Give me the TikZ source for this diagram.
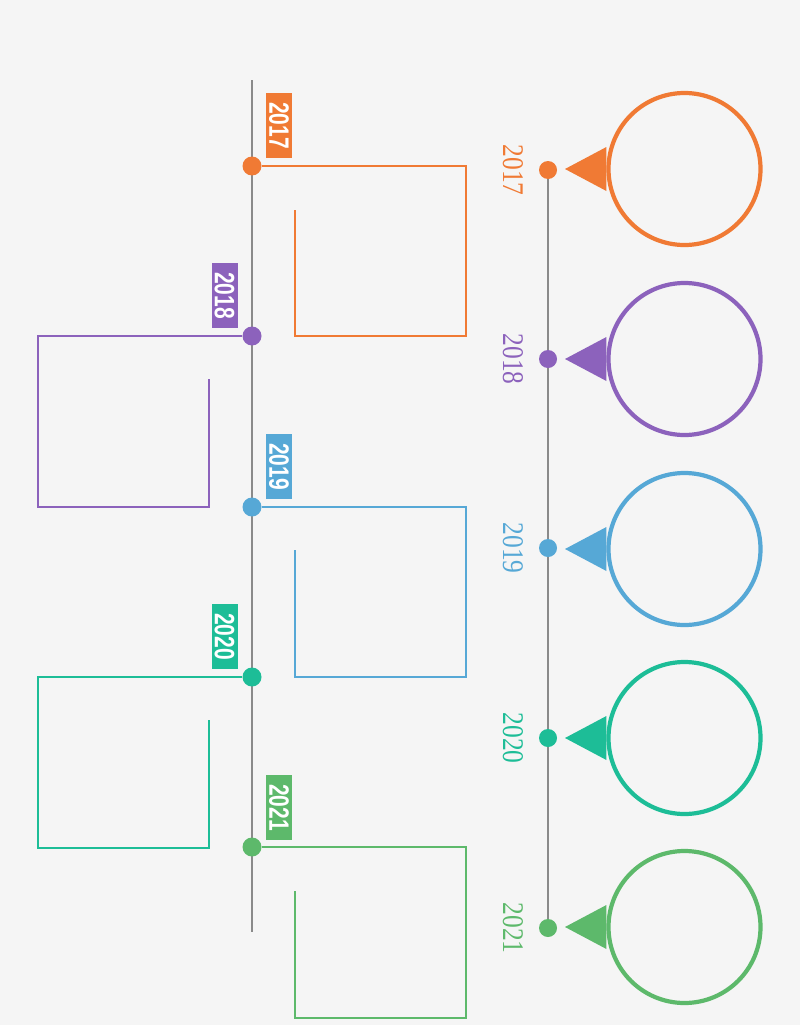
\documentclass[tikz,border=0pt]{standalone}
\usepackage{fontspec}
\setmainfont{Liberation Serif}
\newfontfamily\labsans{Liberation Sans}
\definecolor{bgc}{HTML}{F5F5F5}
\definecolor{axis}{HTML}{8A8A8A}
\definecolor{cA}{HTML}{F07A34}
\definecolor{cB}{HTML}{8C62BC}
\definecolor{cC}{HTML}{56A8D6}
\definecolor{cD}{HTML}{1DBD97}
\definecolor{cE}{HTML}{5DB96B}
\tikzset{
  dotnode/.style={circle,fill=#1,minimum size=19pt,inner sep=0pt},
  sdotnode/.style={circle,fill=#1,minimum size=18pt,inner sep=0pt},
  tag/.style={fill=#1,text=white,minimum width=65pt,minimum height=26pt,inner sep=0pt,rotate=-90,font=\labsans\fontsize{28}{28}\selectfont\bfseries},
  ylab/.style={text=#1,inner sep=0pt,rotate=-90,font=\fontsize{30}{30}\selectfont},
  frame/.style={draw=#1,line width=2pt},
  bubble/.style={circle,draw=#1,line width=4.2pt,minimum size=152pt,inner sep=0pt},
  axisline/.style={draw=axis,line width=2pt}
}
\begin{document}
\begin{tikzpicture}[x=1pt,y=-1pt]
\fill[bgc] (0,0) rectangle (800,1025);
\useasboundingbox (0,0) rectangle (800,1025);
% left axis
\coordinate (ltop) at (252,80);
\coordinate (lbot) at (252,932);
\draw[axisline] (ltop) -- (lbot);
% right axis
\coordinate (rtop) at (548,170);
\coordinate (rbot) at (548,928);
\draw[axisline] (rtop) -- (rbot);

% left dots
\node[dotnode=cA] (d1) at (252,166) {};
\node[dotnode=cB] (d2) at (252,336) {};
\node[dotnode=cC] (d3) at (252,507) {};
\node[dotnode=cD] (d4) at (252,677) {};
\node[dotnode=cE] (d5) at (252,847) {};

% tags
\node[tag=cA] (t1) at (279,125.5) {\scalebox{0.75}[1]{2017}};
\node[tag=cB] (t2) at (224.5,295.5) {\scalebox{0.75}[1]{2018}};
\node[tag=cC] (t3) at (279,466.5) {\scalebox{0.75}[1]{2019}};
\node[tag=cD] (t4) at (224.5,636.5) {\scalebox{0.75}[1]{2020}};
\node[tag=cE] (t5) at (279,807.5) {\scalebox{0.75}[1]{2021}};

% frames
\draw[frame=cA] (d1.east) -- (466,166) -- (466,336) -- (295,336) -- (295,210);
\draw[frame=cB] (d2.west) -- (38,336) -- (38,507) -- (209,507) -- (209,379);
\draw[frame=cC] (d3.east) -- (466,507) -- (466,677) -- (295,677) -- (295,550);
\draw[frame=cD] (d4.west) -- (38,677) -- (38,848) -- (209,848) -- (209,720);
\draw[frame=cE] (d5.east) -- (466,847) -- (466,1018) -- (295,1018) -- (295,891);

% right dots
\node[sdotnode=cA] (r1) at (548,170) {};
\node[sdotnode=cB] (r2) at (548,359) {};
\node[sdotnode=cC] (r3) at (548,548) {};
\node[sdotnode=cD] (r4) at (548,738) {};
\node[sdotnode=cE] (r5) at (548,928) {};

% right year labels
\node[ylab=cA] (y1) at (513,170) {\scalebox{0.85}[1]{2017}};
\node[ylab=cB] (y2) at (513,359) {\scalebox{0.85}[1]{2018}};
\node[ylab=cC] (y3) at (513,548) {\scalebox{0.85}[1]{2019}};
\node[ylab=cD] (y4) at (513,738) {\scalebox{0.85}[1]{2020}};
\node[ylab=cE] (y5) at (513,928) {\scalebox{0.85}[1]{2021}};

% bubbles
\foreach \i/\c/\y in {1/cA/169,2/cB/359,3/cC/549,4/cD/738,5/cE/927}{
  \node[bubble=\c] (b\i) at (684.5,\y) {};
  \coordinate (p\i) at (565,\y);
  \fill[\c] (p\i) -- ([yshift=-22pt]b\i.west) -- ([yshift=22pt]b\i.west) -- cycle;
}
\end{tikzpicture}
\end{document}
